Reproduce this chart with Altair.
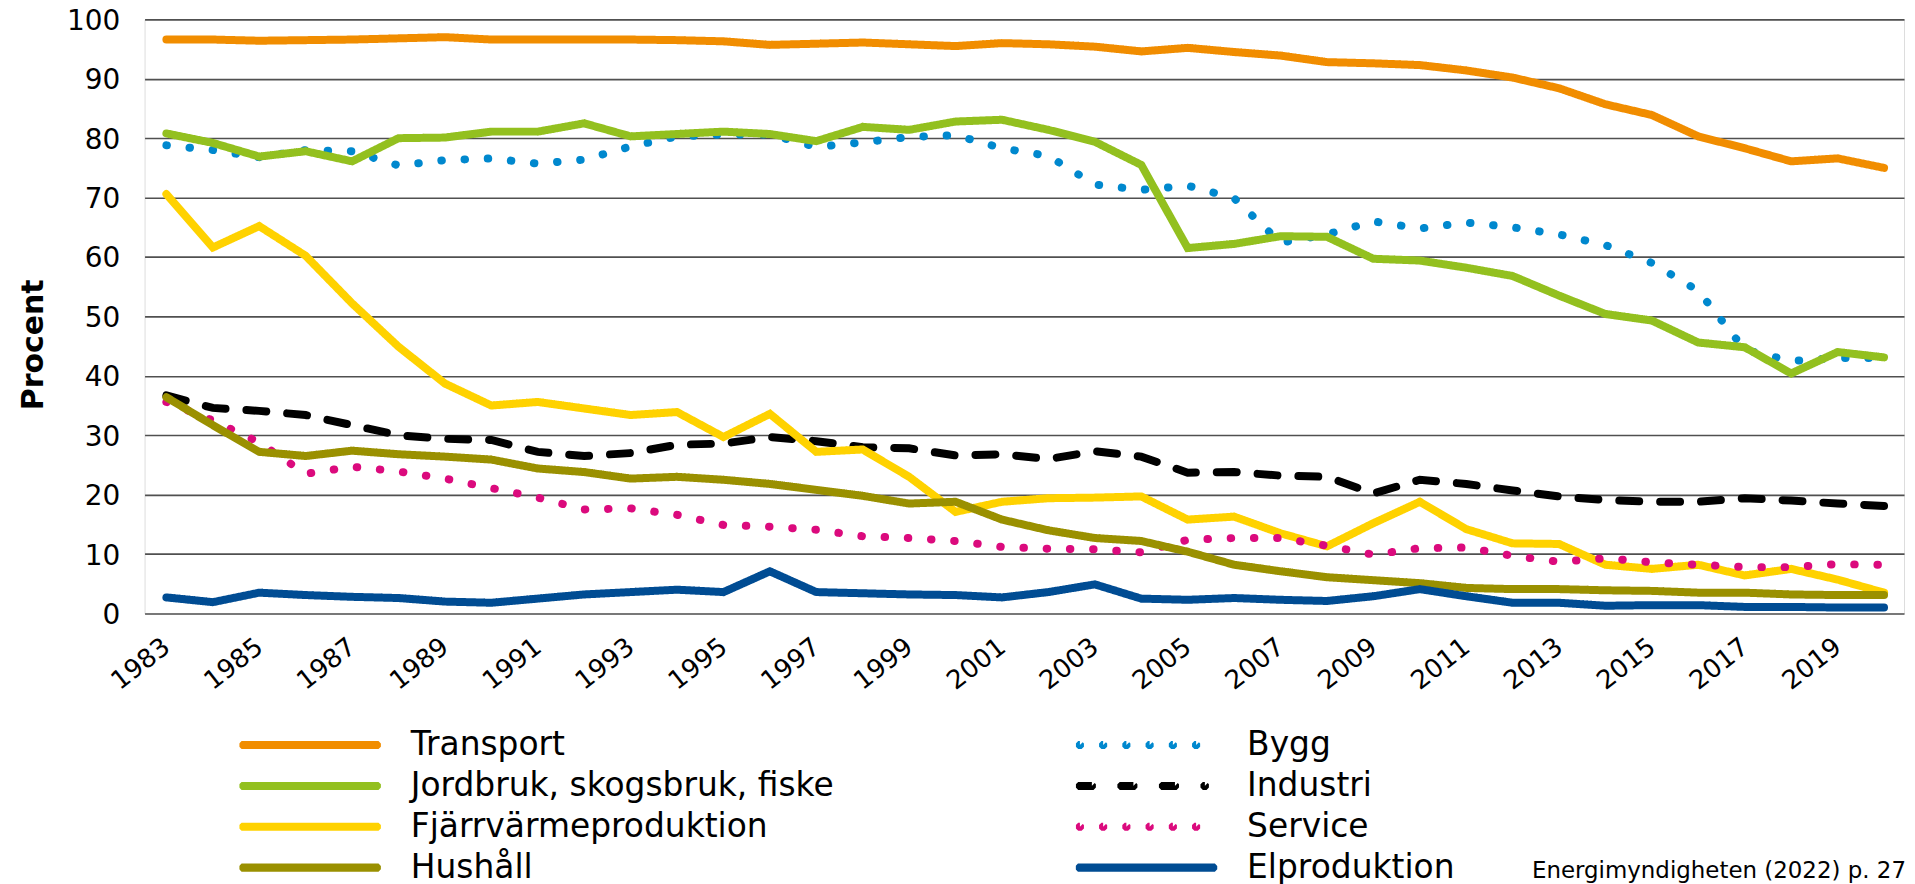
import math
import altair as alt
import pandas as pd

years = list(range(1983, 2021))

transport = [96.6, 96.6, 96.4, 96.5, 96.6, 96.8, 97.0, 96.6, 96.6, 96.6, 96.6, 96.5,
             96.3, 95.7, 95.9, 96.1, 95.8, 95.5, 96.0, 95.8, 95.4, 94.6, 95.2, 94.5, 93.9, 92.8,
             92.6, 92.3, 91.4, 90.2, 88.4, 85.7, 83.9, 80.3, 78.3, 76.1, 76.6, 75.0]
bygg = [78.8, 78.0, 76.8, 78.0, 77.8, 75.4, 76.3, 76.6, 75.7, 76.4, 78.6, 80.3,
        80.6, 80.6, 78.5, 79.3, 80.2, 80.5, 78.3, 77.0, 72.2, 71.3, 72.0, 69.9, 62.4, 63.8,
        66.0, 64.8, 65.8, 65.0, 63.8, 62.0, 59.0, 54.3, 44.4, 42.5, 43.0, 43.0]
jordbruk = [80.8, 79.2, 76.9, 77.8, 76.1, 80.0, 80.1, 81.1, 81.1, 82.5, 80.3, 80.7,
            81.1, 80.7, 79.5, 81.9, 81.4, 82.8, 83.1, 81.4, 79.4, 75.5, 61.5, 62.2, 63.5, 63.4,
            59.7, 59.4, 58.2, 56.8, 53.5, 50.4, 49.3, 45.6, 44.8, 40.4, 44.0, 43.1]
industri = [36.7, 34.6, 34.1, 33.4, 31.7, 30.0, 29.4, 29.2, 27.2, 26.5, 27.0, 28.4,
            28.6, 29.7, 29.0, 28.0, 27.8, 26.6, 26.8, 26.0, 27.3, 26.4, 23.7, 23.8, 23.2, 23.0,
            20.2, 22.5, 21.8, 20.7, 19.7, 19.1, 18.8, 18.8, 19.4, 19.0, 18.5, 18.1]
fjarrvarme = [70.6, 61.6, 65.2, 60.2, 52.2, 44.9, 38.7, 35.0, 35.6, 34.5, 33.4, 33.9,
              29.7, 33.6, 27.2, 27.6, 23.0, 17.1, 18.8, 19.4, 19.5, 19.7, 15.8, 16.3, 13.5, 11.3,
              15.2, 18.8, 14.2, 11.8, 11.7, 8.2, 7.5, 8.2, 6.4, 7.5, 5.7, 3.5]
service = [35.6, 32.5, 28.8, 23.5, 24.7, 23.9, 22.7, 21.1, 19.5, 17.5, 17.7, 16.6,
           14.9, 14.6, 14.1, 13.0, 12.7, 12.2, 11.2, 10.9, 10.8, 10.3, 12.4, 12.7, 12.7, 11.4,
           9.9, 11.0, 11.1, 9.7, 8.7, 9.3, 8.6, 8.2, 7.8, 7.8, 8.3, 8.2]
hushall = [36.4, 31.7, 27.2, 26.5, 27.4, 26.8, 26.4, 25.9, 24.4, 23.8, 22.7, 23.0,
           22.5, 21.8, 20.8, 19.8, 18.5, 18.8, 15.8, 14.0, 12.7, 12.2, 10.4, 8.2, 7.1, 6.1,
           5.6, 5.1, 4.3, 4.1, 4.1, 3.9, 3.8, 3.5, 3.5, 3.2, 3.1, 3.1]
elproduktion = [2.7, 1.9, 3.5, 3.1, 2.8, 2.6, 2.0, 1.8, 2.5, 3.2, 3.6, 4.0,
                3.6, 7.1, 3.6, 3.4, 3.2, 3.1, 2.7, 3.6, 4.9, 2.5, 2.3, 2.6, 2.3, 2.1,
                2.9, 4.1, 2.9, 1.8, 1.8, 1.3, 1.4, 1.4, 1.1, 1.1, 1.0, 1.0]

# drawing order (data order) and legend order (column-major, 2 columns)
draw_order = ["Transport", "Bygg", "Jordbruk, skogsbruk, fiske", "Industri",
              "Fjärrvärmeproduktion", "Service", "Hushåll", "Elproduktion"]
draw_values = [transport, bygg, jordbruk, industri, fjarrvarme, service, hushall, elproduktion]

legend_order = ["Transport", "Jordbruk, skogsbruk, fiske", "Fjärrvärmeproduktion", "Hushåll",
                "Bygg", "Industri", "Service", "Elproduktion"]
legend_colors = ["#F18D00", "#93C01F", "#FFD200", "#9A9000",
                 "#0088CE", "#000000", "#DB0A7D", "#004C93"]
line_dash = [[1, 0], [1, 0], [1, 0], [1, 0],
             [0.5, 22.8], [20, 21], [0.5, 22.8], [1, 0]]

y_ticks = list(range(0, 101, 10))
x_ticks = list(range(1983, 2020, 2))
source_text = "Energimyndigheten (2022) p. 27"

rows = []
for name, vals in zip(draw_order, draw_values):
    for yr, v in zip(years, vals):
        rows.append({"År": yr, "Procent": v, "Sektor": name})
df = pd.DataFrame(rows)

FONT = "DejaVu Sans"


# legend symbol shapes: tiny capsule polygons, widened by the 8px stroke
def capsule(a, b, r=0.001):
    pts = []
    for ang in (-67.5, -22.5, 22.5, 67.5):
        t = math.radians(ang)
        pts.append((b + r * math.cos(t), r * math.sin(t)))
    for ang in (112.5, 157.5, 202.5, 247.5):
        t = math.radians(ang)
        pts.append((a + r * math.cos(t), r * math.sin(t)))
    return "M" + " L".join(f"{x:.5f},{y:.5f}" for x, y in pts) + " Z"


dotted_shape = " ".join(capsule(-0.996 + 0.348 * i, -0.996 + 0.348 * i) for i in range(6))
dashed_shape = " ".join(capsule(a, b) for a, b in [(-0.996, -0.817), (-0.374, -0.195),
                                                      (0.248, 0.427), (0.870, 0.875)])
solid_shape = capsule(-1.0, 1.0)
shape_expr = (f"(datum.value === 'Bygg' || datum.value === 'Service') ? '{dotted_shape}' : "
              f"(datum.value === 'Industri' ? '{dashed_shape}' : '{solid_shape}')")

legend = alt.Legend(
    orient="none", legendX=95, legendY=712, columns=2, columnPadding=242,
    rowPadding=8, clipHeight=32, symbolType={"expr": shape_expr}, symbolSize=17956,
    symbolStrokeWidth=8, labelFontSize=33, labelFont=FONT, labelColor="#000000",
    labelOffset=30, labelLimit=1000, title=None, padding=0,
)

chart = alt.Chart(df).mark_line(strokeWidth=8, strokeCap="round").encode(
    x=alt.X("År:Q",
            scale=alt.Scale(domain=[1982.53, 2020.43], nice=False, zero=False),
            axis=alt.Axis(values=x_ticks, format="d", labelAngle=-38, grid=False,
                          ticks=False, domain=False, labelFontSize=26, labelFont=FONT,
                          labelColor="#000000", labelPadding=30, labelAlign="right",
                          labelBaseline="middle", labelFlush=False, labelOverlap=False,
                          title=None)),
    y=alt.Y("Procent:Q",
            scale=alt.Scale(domain=[0, 100], nice=False),
            axis=alt.Axis(values=y_ticks, grid=True, gridColor="#505050", gridWidth=1.6,
                          ticks=False, domain=False, labelFontSize=28, labelFont=FONT,
                          labelColor="#000000", labelPadding=25, labelFlush=False,
                          labelOffset=2,
                          title="Procent", titleFont=FONT, titleFontSize=30,
                          titleFontWeight="bold", titleColor="#000000",
                          titleX=-111, titleY=326, titleAngle=270,
                          titleAlign="center", titleBaseline="middle")),
    color=alt.Color("Sektor:N", scale=alt.Scale(domain=legend_order, range=legend_colors),
                    legend=legend),
    strokeDash=alt.StrokeDash("Sektor:N", scale=alt.Scale(domain=legend_order, range=line_dash),
                              legend=None),
).properties(
    width=1765, height=596,
    autosize=alt.AutoSizeParams(type="none"),
    padding={"left": 137, "top": 10, "right": 3, "bottom": 270},
    title=alt.TitleParams(source_text, orient="top", anchor="end", frame="group",
                          font=FONT, fontSize=23, fontWeight="normal", color="#000000",
                          baseline="alphabetic", offset=0, dx=2, dy=896),
).configure_view(stroke=None).configure(background="white")

chart.save("out.html", embed_options={"renderer": "svg", "actions": False})
